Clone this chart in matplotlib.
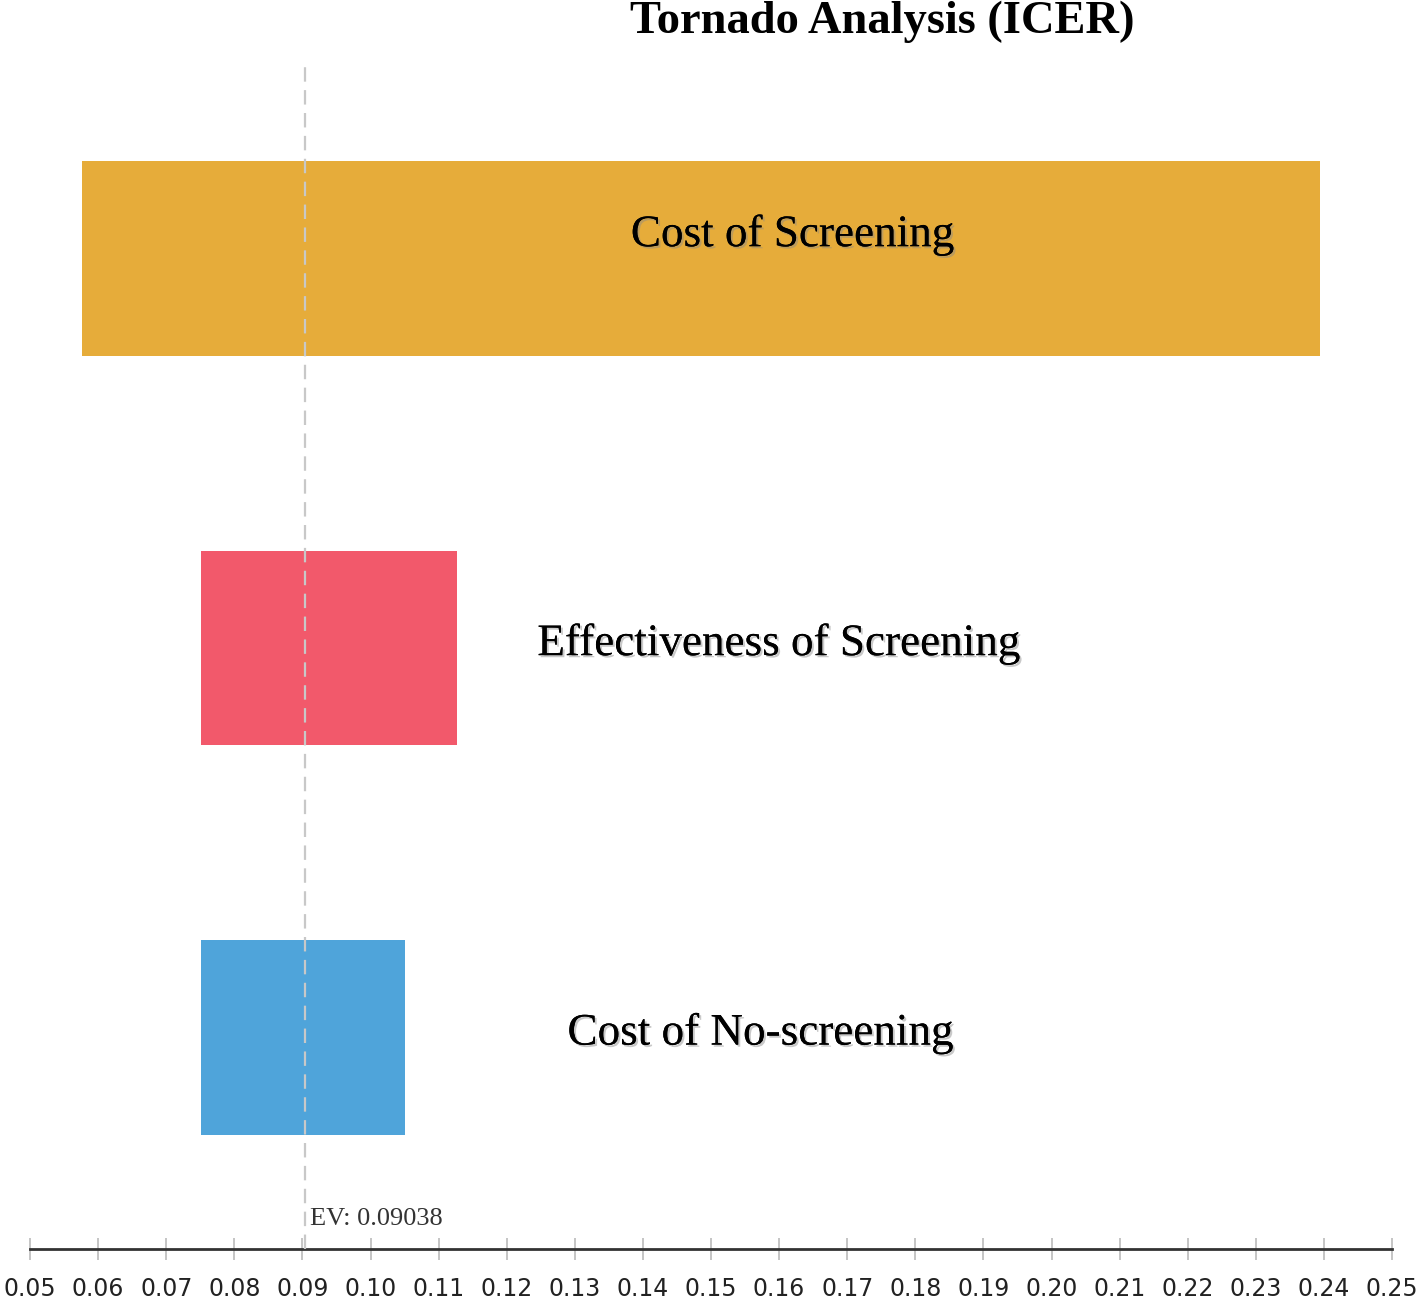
import matplotlib
matplotlib.use("Agg")
import matplotlib.pyplot as plt
import matplotlib.patheffects as pe

categories = ["Cost of Screening", "Effectiveness of Screening", "Cost of No-screening"]
low_values = [0.0576, 0.0751, 0.0751]
high_values = [0.2394, 0.1127, 0.1051]
bar_colors = ["#E6AC3A", "#F2596B", "#4FA4DA"]
ev_value = 0.09038
tick_values = [round(0.05 + 0.01 * i, 2) for i in range(21)]
tick_labels = [f"{v:.2f}" for v in tick_values]
label_x = [0.1620, 0.1600, 0.1573]

W, H = 1416, 1301
fig = plt.figure(figsize=(W / 100, H / 100), dpi=100)
ax = fig.add_axes([30 / W, (H - 1249) / H, (1392 - 30) / W, (1249 - 65) / H])

ypos = [2, 1, 0]
for y, lo, hi, c in zip(ypos, low_values, high_values, bar_colors):
    ax.barh(y, hi - lo, left=lo, height=0.5, color=c, edgecolor="none", zorder=2)

shadow = [pe.withSimplePatchShadow(offset=(1.5, -1.5), shadow_rgbFace="#888888", alpha=0.45), pe.Normal()]
label_dy = [0.06, 0.01, 0.01]
for y, name, lx, dy in zip(ypos, categories, label_x, label_dy):
    ax.text(lx, y + dy, name, ha="center", va="center", fontsize=32.5,
            family="Liberation Serif", color="black", path_effects=shadow, zorder=4)

ax.axvline(ev_value, color="#C8C8C8", linestyle=(0, (6.5, 3.8)), linewidth=1.6, zorder=3)
ax.text(ev_value + 0.0007, -0.466, f"EV: {ev_value:.5f}", ha="left", va="center",
        fontsize=19, family="Liberation Serif", color="#333333", zorder=4)

ax.set_xlim(0.05, 0.25)
ax.set_ylim(-0.543, 2.497)
ax.set_xticks(tick_values)
ax.set_xticklabels(tick_labels, fontsize=17, family="Liberation Sans Narrow", color="#222222")
ax.set_yticks([])
for s in ["top", "right", "left"]:
    ax.spines[s].set_visible(False)
ax.spines["bottom"].set_color("#333333")
ax.spines["bottom"].set_linewidth(2)
ax.tick_params(axis="x", direction="inout", length=16, width=1.2, color="#BBBBBB", pad=12)

fig.text(882 / W, 1 - 22 / H, "Tornado Analysis (ICER)", ha="center", va="center",
         fontsize=33.5, fontweight="bold", family="Liberation Serif")

fig.savefig("out.png", dpi=100)
